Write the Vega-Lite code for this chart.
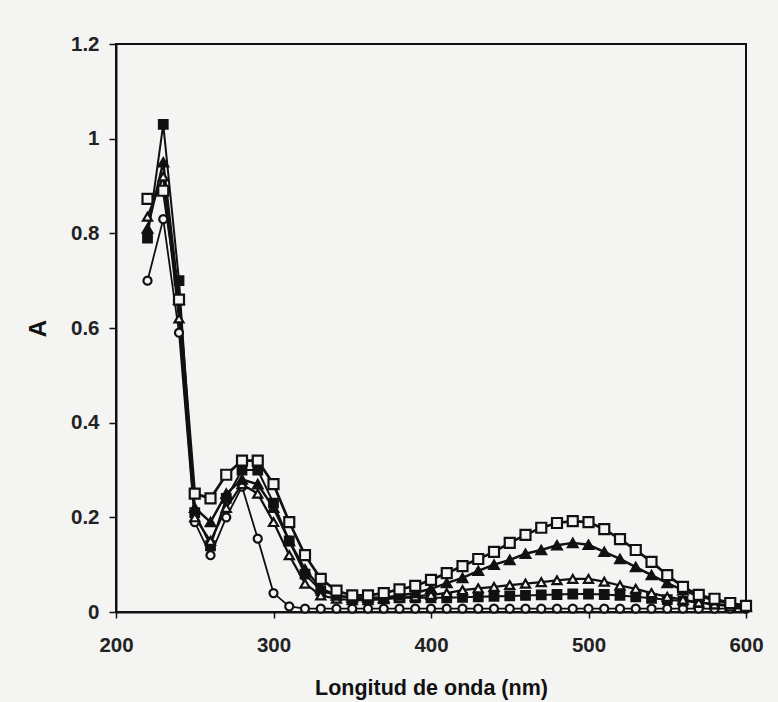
{
  "$schema": "https://vega.github.io/schema/vega-lite/v6.json",
  "width": 630,
  "height": 568,
  "autosize": {"type": "none"},
  "padding": {"left": 116, "top": 44, "right": 32, "bottom": 90},
  "background": "#f4f4f3",
  "config": {
    "font": "Liberation Sans",
    "view": {"stroke": "#111", "strokeWidth": 2, "fill": "#f4f4f3"},
    "axis": {
      "grid": false,
      "domainColor": "#111",
      "domainWidth": 2,
      "tickColor": "#111",
      "tickWidth": 1.5,
      "labelFont": "Liberation Sans",
      "labelFontWeight": "bold",
      "labelFontSize": 20.5,
      "labelColor": "#222",
      "labelFlush": false,
      "titleFont": "Liberation Sans",
      "titleFontWeight": "bold",
      "titleColor": "#111"
    }
  },
  "data": {
    "values": [
      {"nm":220,"A":0.70,"s":"a"},{"nm":230,"A":0.83,"s":"a"},{"nm":240,"A":0.59,"s":"a"},{"nm":250,"A":0.19,"s":"a"},{"nm":260,"A":0.12,"s":"a"},{"nm":270,"A":0.20,"s":"a"},{"nm":280,"A":0.265,"s":"a"},{"nm":290,"A":0.155,"s":"a"},{"nm":300,"A":0.04,"s":"a"},{"nm":310,"A":0.012,"s":"a"},{"nm":320,"A":0.007,"s":"a"},{"nm":330,"A":0.007,"s":"a"},{"nm":340,"A":0.007,"s":"a"},{"nm":350,"A":0.007,"s":"a"},{"nm":360,"A":0.007,"s":"a"},{"nm":370,"A":0.007,"s":"a"},{"nm":380,"A":0.007,"s":"a"},{"nm":390,"A":0.007,"s":"a"},{"nm":400,"A":0.007,"s":"a"},{"nm":410,"A":0.007,"s":"a"},{"nm":420,"A":0.007,"s":"a"},{"nm":430,"A":0.007,"s":"a"},{"nm":440,"A":0.007,"s":"a"},{"nm":450,"A":0.007,"s":"a"},{"nm":460,"A":0.007,"s":"a"},{"nm":470,"A":0.007,"s":"a"},{"nm":480,"A":0.007,"s":"a"},{"nm":490,"A":0.007,"s":"a"},{"nm":500,"A":0.007,"s":"a"},{"nm":510,"A":0.007,"s":"a"},{"nm":520,"A":0.007,"s":"a"},{"nm":530,"A":0.007,"s":"a"},{"nm":540,"A":0.007,"s":"a"},{"nm":550,"A":0.007,"s":"a"},{"nm":560,"A":0.007,"s":"a"},{"nm":570,"A":0.007,"s":"a"},{"nm":580,"A":0.007,"s":"a"},{"nm":590,"A":0.007,"s":"a"},{"nm":600,"A":0.007,"s":"a"},

      {"nm":220,"A":0.79,"s":"b"},{"nm":230,"A":1.03,"s":"b"},{"nm":240,"A":0.70,"s":"b"},{"nm":250,"A":0.21,"s":"b"},{"nm":260,"A":0.14,"s":"b"},{"nm":270,"A":0.24,"s":"b"},{"nm":280,"A":0.30,"s":"b"},{"nm":290,"A":0.30,"s":"b"},{"nm":300,"A":0.23,"s":"b"},{"nm":310,"A":0.15,"s":"b"},{"nm":320,"A":0.08,"s":"b"},{"nm":330,"A":0.045,"s":"b"},{"nm":340,"A":0.035,"s":"b"},{"nm":350,"A":0.03,"s":"b"},{"nm":360,"A":0.03,"s":"b"},{"nm":370,"A":0.03,"s":"b"},{"nm":380,"A":0.03,"s":"b"},{"nm":390,"A":0.03,"s":"b"},{"nm":400,"A":0.03,"s":"b"},{"nm":410,"A":0.03,"s":"b"},{"nm":420,"A":0.031,"s":"b"},{"nm":430,"A":0.032,"s":"b"},{"nm":440,"A":0.033,"s":"b"},{"nm":450,"A":0.034,"s":"b"},{"nm":460,"A":0.035,"s":"b"},{"nm":470,"A":0.036,"s":"b"},{"nm":480,"A":0.037,"s":"b"},{"nm":490,"A":0.038,"s":"b"},{"nm":500,"A":0.038,"s":"b"},{"nm":510,"A":0.037,"s":"b"},{"nm":520,"A":0.035,"s":"b"},{"nm":530,"A":0.032,"s":"b"},{"nm":540,"A":0.029,"s":"b"},{"nm":550,"A":0.026,"s":"b"},{"nm":560,"A":0.023,"s":"b"},{"nm":570,"A":0.02,"s":"b"},{"nm":580,"A":0.017,"s":"b"},{"nm":590,"A":0.015,"s":"b"},{"nm":600,"A":0.012,"s":"b"},

      {"nm":220,"A":0.835,"s":"c"},{"nm":230,"A":0.92,"s":"c"},{"nm":240,"A":0.62,"s":"c"},{"nm":250,"A":0.20,"s":"c"},{"nm":260,"A":0.15,"s":"c"},{"nm":270,"A":0.22,"s":"c"},{"nm":280,"A":0.27,"s":"c"},{"nm":290,"A":0.25,"s":"c"},{"nm":300,"A":0.19,"s":"c"},{"nm":310,"A":0.12,"s":"c"},{"nm":320,"A":0.06,"s":"c"},{"nm":330,"A":0.035,"s":"c"},{"nm":340,"A":0.028,"s":"c"},{"nm":350,"A":0.025,"s":"c"},{"nm":360,"A":0.025,"s":"c"},{"nm":370,"A":0.027,"s":"c"},{"nm":380,"A":0.03,"s":"c"},{"nm":390,"A":0.033,"s":"c"},{"nm":400,"A":0.036,"s":"c"},{"nm":410,"A":0.04,"s":"c"},{"nm":420,"A":0.046,"s":"c"},{"nm":430,"A":0.05,"s":"c"},{"nm":440,"A":0.053,"s":"c"},{"nm":450,"A":0.057,"s":"c"},{"nm":460,"A":0.06,"s":"c"},{"nm":470,"A":0.063,"s":"c"},{"nm":480,"A":0.067,"s":"c"},{"nm":490,"A":0.07,"s":"c"},{"nm":500,"A":0.07,"s":"c"},{"nm":510,"A":0.064,"s":"c"},{"nm":520,"A":0.056,"s":"c"},{"nm":530,"A":0.049,"s":"c"},{"nm":540,"A":0.04,"s":"c"},{"nm":550,"A":0.032,"s":"c"},{"nm":560,"A":0.026,"s":"c"},{"nm":570,"A":0.02,"s":"c"},{"nm":580,"A":0.016,"s":"c"},{"nm":590,"A":0.012,"s":"c"},{"nm":600,"A":0.01,"s":"c"},

      {"nm":220,"A":0.81,"s":"d"},{"nm":230,"A":0.95,"s":"d"},{"nm":240,"A":0.66,"s":"d"},{"nm":250,"A":0.22,"s":"d"},{"nm":260,"A":0.19,"s":"d"},{"nm":270,"A":0.25,"s":"d"},{"nm":280,"A":0.28,"s":"d"},{"nm":290,"A":0.27,"s":"d"},{"nm":300,"A":0.22,"s":"d"},{"nm":310,"A":0.15,"s":"d"},{"nm":320,"A":0.09,"s":"d"},{"nm":330,"A":0.05,"s":"d"},{"nm":340,"A":0.035,"s":"d"},{"nm":350,"A":0.03,"s":"d"},{"nm":360,"A":0.03,"s":"d"},{"nm":370,"A":0.03,"s":"d"},{"nm":380,"A":0.035,"s":"d"},{"nm":390,"A":0.04,"s":"d"},{"nm":400,"A":0.049,"s":"d"},{"nm":410,"A":0.061,"s":"d"},{"nm":420,"A":0.072,"s":"d"},{"nm":430,"A":0.087,"s":"d"},{"nm":440,"A":0.1,"s":"d"},{"nm":450,"A":0.11,"s":"d"},{"nm":460,"A":0.123,"s":"d"},{"nm":470,"A":0.131,"s":"d"},{"nm":480,"A":0.141,"s":"d"},{"nm":490,"A":0.146,"s":"d"},{"nm":500,"A":0.142,"s":"d"},{"nm":510,"A":0.127,"s":"d"},{"nm":520,"A":0.112,"s":"d"},{"nm":530,"A":0.095,"s":"d"},{"nm":540,"A":0.078,"s":"d"},{"nm":550,"A":0.061,"s":"d"},{"nm":560,"A":0.046,"s":"d"},{"nm":570,"A":0.033,"s":"d"},{"nm":580,"A":0.025,"s":"d"},{"nm":590,"A":0.018,"s":"d"},{"nm":600,"A":0.012,"s":"d"},

      {"nm":220,"A":0.873,"s":"e"},{"nm":230,"A":0.89,"s":"e"},{"nm":240,"A":0.66,"s":"e"},{"nm":250,"A":0.25,"s":"e"},{"nm":260,"A":0.24,"s":"e"},{"nm":270,"A":0.29,"s":"e"},{"nm":280,"A":0.32,"s":"e"},{"nm":290,"A":0.32,"s":"e"},{"nm":300,"A":0.27,"s":"e"},{"nm":310,"A":0.19,"s":"e"},{"nm":320,"A":0.12,"s":"e"},{"nm":330,"A":0.07,"s":"e"},{"nm":340,"A":0.045,"s":"e"},{"nm":350,"A":0.035,"s":"e"},{"nm":360,"A":0.035,"s":"e"},{"nm":370,"A":0.04,"s":"e"},{"nm":380,"A":0.048,"s":"e"},{"nm":390,"A":0.055,"s":"e"},{"nm":400,"A":0.068,"s":"e"},{"nm":410,"A":0.082,"s":"e"},{"nm":420,"A":0.097,"s":"e"},{"nm":430,"A":0.112,"s":"e"},{"nm":440,"A":0.127,"s":"e"},{"nm":450,"A":0.146,"s":"e"},{"nm":460,"A":0.163,"s":"e"},{"nm":470,"A":0.178,"s":"e"},{"nm":480,"A":0.188,"s":"e"},{"nm":490,"A":0.192,"s":"e"},{"nm":500,"A":0.19,"s":"e"},{"nm":510,"A":0.175,"s":"e"},{"nm":520,"A":0.154,"s":"e"},{"nm":530,"A":0.131,"s":"e"},{"nm":540,"A":0.106,"s":"e"},{"nm":550,"A":0.078,"s":"e"},{"nm":560,"A":0.053,"s":"e"},{"nm":570,"A":0.036,"s":"e"},{"nm":580,"A":0.028,"s":"e"},{"nm":590,"A":0.019,"s":"e"},{"nm":600,"A":0.013,"s":"e"}
    ]
  },
  "encoding": {
    "x": {
      "field": "nm",
      "type": "quantitative",
      "scale": {"domain": [200, 600], "nice": false, "zero": false},
      "axis": {
        "values": [200, 300, 400, 500, 600],
        "format": "d",
        "tickSize": 6,
        "labelPadding": 17,
        "title": "Longitud de onda (nm)",
        "titleFontSize": 21.5,
        "titlePadding": 22
      }
    },
    "y": {
      "field": "A",
      "type": "quantitative",
      "scale": {"domain": [0, 1.2], "nice": false},
      "axis": {
        "values": [0, 0.2, 0.4, 0.6, 0.8, 1, 1.2],
        "format": "~g",
        "tickSize": 7,
        "labelPadding": 10,
        "title": "A",
        "titleFontSize": 24,
        "titlePadding": 20
      }
    },
    "detail": {"field": "s", "type": "nominal"}
  },
  "layer": [
    {
      "mark": {"type": "line", "color": "#111", "clip": false},
      "encoding": {
        "strokeWidth": {
          "field": "s",
          "type": "nominal",
          "scale": {"domain": ["a", "b", "c", "d", "e"], "range": [1.8, 2.7, 2.5, 2.5, 2.5]},
          "legend": null
        }
      }
    },
    {
      "mark": {"type": "point", "filled": true, "stroke": "#111", "strokeWidth": 2.2, "opacity": 1, "clip": false},
      "encoding": {
        "shape": {
          "field": "s",
          "type": "nominal",
          "scale": {"domain": ["a", "b", "c", "d", "e"], "range": ["circle", "square", "triangle-up", "triangle-up", "square"]},
          "legend": null
        },
        "fill": {
          "field": "s",
          "type": "nominal",
          "scale": {"domain": ["a", "b", "c", "d", "e"], "range": ["#f4f4f3", "#111", "#f4f4f3", "#111", "#f4f4f3"]},
          "legend": null
        },
        "size": {
          "field": "s",
          "type": "nominal",
          "scale": {"domain": ["a", "b", "c", "d", "e"], "range": [65, 100, 110, 110, 100]},
          "legend": null
        }
      }
    }
  ]
}
